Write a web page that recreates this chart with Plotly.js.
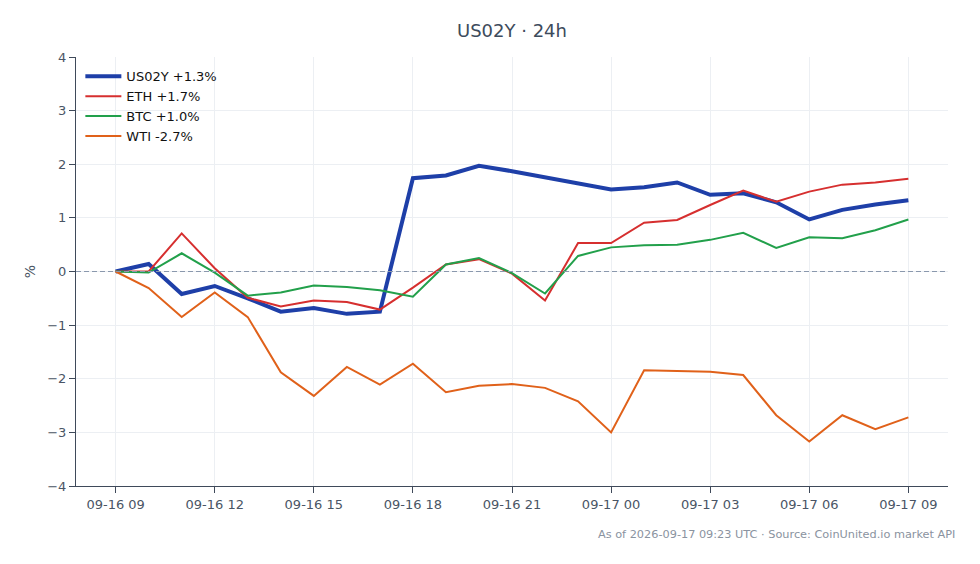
<!DOCTYPE html>
<html>
<head>
<meta charset="utf-8">
<script src="https://cdn.plot.ly/plotly-3.0.1.min.js"></script>
<style>
  html, body { margin: 0; padding: 0; background: #fff; }
  #chart { width: 980px; height: 564px; }
</style>
</head>
<body>
<div id="chart"></div>
<script>
// hourly timestamps, 09-16 09:00 -> 09-17 09:00 UTC
var hours = [
  '2026-09-16 09:00', '2026-09-16 10:00', '2026-09-16 11:00', '2026-09-16 12:00',
  '2026-09-16 13:00', '2026-09-16 14:00', '2026-09-16 15:00', '2026-09-16 16:00',
  '2026-09-16 17:00', '2026-09-16 18:00', '2026-09-16 19:00', '2026-09-16 20:00',
  '2026-09-16 21:00', '2026-09-16 22:00', '2026-09-16 23:00', '2026-09-17 00:00',
  '2026-09-17 01:00', '2026-09-17 02:00', '2026-09-17 03:00', '2026-09-17 04:00',
  '2026-09-17 05:00', '2026-09-17 06:00', '2026-09-17 07:00', '2026-09-17 08:00',
  '2026-09-17 09:00'
];

// % change since start
var us02y = [0, 0.14, -0.42, -0.27, -0.50, -0.75, -0.68, -0.79, -0.75, 1.74, 1.79, 1.97,
             1.87, 1.76, 1.65, 1.53, 1.57, 1.66, 1.43, 1.46, 1.29, 0.97, 1.15, 1.25, 1.33];
var eth   = [0, 0.0, 0.71, 0.06, -0.49, -0.65, -0.54, -0.57, -0.71, -0.30, 0.13, 0.23,
             -0.04, -0.54, 0.53, 0.53, 0.91, 0.96, 1.24, 1.51, 1.30, 1.49, 1.62, 1.66, 1.73];
var btc   = [0, -0.02, 0.34, -0.02, -0.45, -0.39, -0.26, -0.29, -0.35, -0.47, 0.13, 0.25,
             -0.03, -0.41, 0.29, 0.45, 0.49, 0.50, 0.59, 0.72, 0.44, 0.64, 0.62, 0.77, 0.97];
var wti   = [0, -0.31, -0.85, -0.39, -0.85, -1.88, -2.32, -1.78, -2.11, -1.72, -2.25, -2.13,
             -2.10, -2.17, -2.42, -3.00, -1.84, -1.85, -1.87, -1.93, -2.68, -3.17, -2.68, -2.94, -2.72];

var names = ['US02Y +1.3%', 'ETH +1.7%', 'BTC +1.0%', 'WTI -2.7%'];
var colors = ['#1e3fa8', '#d62f2f', '#22a04b', '#e0611a'];
var widths = [4, 2, 2, 2];
var series = [us02y, eth, btc, wti];

var traces = series.map(function (s, i) {
  return {
    x: hours,
    y: s,
    name: names[i],
    mode: 'lines',
    type: 'scatter',
    line: { color: colors[i], width: widths[i] }
  };
});

var axisColor = '#3f4a5a';
var tickColor = '#4a5565';

var layout = {
  width: 980,
  height: 564,
  margin: { l: 76, r: 32, t: 57, b: 78 },
  paper_bgcolor: '#fff',
  plot_bgcolor: '#fff',
  font: { family: 'DejaVu Sans, sans-serif', size: 13, color: tickColor },
  title: {
    text: 'US02Y · 24h',
    font: { size: 18, color: '#3d4b5c' },
    xref: 'paper', x: 0.5, xanchor: 'center', y: 0.945, yanchor: 'middle'
  },
  showlegend: true,
  legend: {
    x: 0.005, y: 0.99, xanchor: 'left', yanchor: 'top',
    bgcolor: 'rgba(255,255,255,0)',
    itemwidth: 36,
    font: { size: 13, color: '#111' }
  },
  xaxis: {
    type: 'date',
    range: ['2026-09-16 07:48', '2026-09-17 10:12'],
    dtick: 3 * 3600 * 1000,
    tick0: '2026-09-16 09:00',
    tickformat: '%m-%d %H',
    showgrid: true,
    gridcolor: '#eceff3',
    showline: true,
    linecolor: axisColor,
    linewidth: 1,
    ticks: 'outside',
    ticklen: 6,
    tickcolor: axisColor,
    tickfont: { size: 13, color: tickColor },
    zeroline: false
  },
  yaxis: {
    range: [-4, 4],
    dtick: 1,
    showgrid: true,
    gridcolor: '#eceff3',
    showline: true,
    linecolor: axisColor,
    linewidth: 1,
    ticks: 'outside',
    ticklen: 6,
    tickcolor: axisColor,
    tickfont: { size: 13, color: tickColor },
    zeroline: false,
    title: { text: '%', font: { size: 14, color: tickColor }, standoff: 8 }
  },
  shapes: [{
    type: 'line', xref: 'paper', yref: 'y',
    x0: 0, x1: 1, y0: 0, y1: 0,
    line: { color: '#8a98ad', width: 1.2, dash: '5px,3px' }
  }],
  annotations: [{
    text: 'As of 2026-09-17 09:23 UTC · Source: CoinUnited.io market API',
    xref: 'paper', yref: 'paper',
    x: 1.01, y: -0.112, xanchor: 'right', yanchor: 'middle',
    showarrow: false,
    font: { size: 11.3, color: '#8a93a0' }
  }]
};

Plotly.newPlot('chart', traces, layout, { displayModeBar: false });
</script>
</body>
</html>
